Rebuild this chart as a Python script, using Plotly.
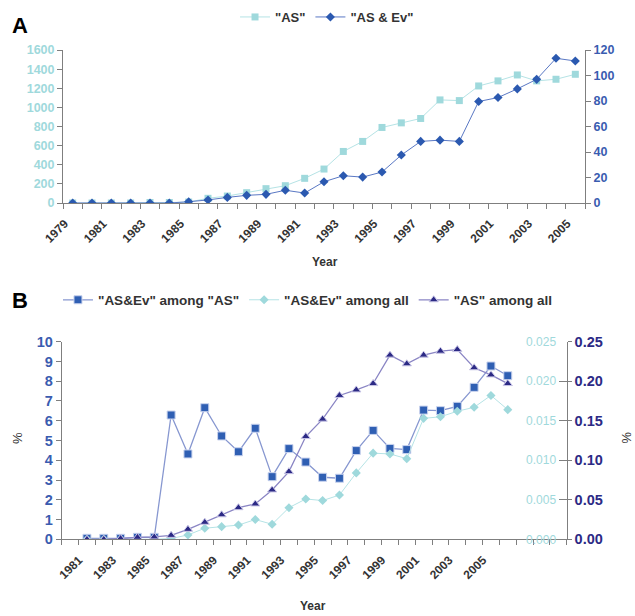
import plotly.graph_objects as go

# ---- Panel A data ----
years_a = list(range(1979, 2006))
as_counts = [0, 0, 0, 0, 5, 5, 10, 49, 73, 108, 150, 181, 258, 355, 539, 644, 790,
             838, 884, 1078, 1071, 1224, 1277, 1339, 1277, 1294, 1346]
as_ev_counts = [0, 0, 0, 0, 0, 0, 1, 2.4, 4.4, 6, 6.8, 10, 7.8, 16.7, 21.4, 20.3, 24.3,
                37.6, 48.3, 49.3, 48.3, 79.6, 82.7, 89.5, 97, 113.5, 111.4]
ticks_a = list(range(1979, 2006, 2))

# ---- Panel B data ----
years_b = list(range(1981, 2007))
asev_among_as = [0.05, 0.05, 0.05, 0.1, 0.1, 6.29, 4.32, 6.66, 5.23, 4.43, 5.62, 3.17, 4.59,
                 3.91, 3.14, 3.09, 4.49, 5.51, 4.60, 4.54, 6.54, 6.51, 6.73, 7.69, 8.77, 8.28]
asev_among_all = [0, 0, 0, 0, 0, 0.0001, 0.00055, 0.0014, 0.0016, 0.0018, 0.0025, 0.0019,
                  0.0040, 0.0051, 0.0049, 0.0056, 0.0084, 0.0109, 0.0108, 0.0102, 0.0153,
                  0.0155, 0.0162, 0.0167, 0.0182, 0.0164]
as_among_all = [0, 0, 0.001, 0.0025, 0.003, 0.005, 0.0126, 0.0215, 0.031, 0.040, 0.0447,
                0.0624, 0.0856, 0.130, 0.152, 0.182, 0.189, 0.197, 0.233, 0.222, 0.233,
                0.238, 0.240, 0.217, 0.208, 0.197]
ticks_b = list(range(1981, 2006, 2))

W, H = 635, 616
FONT = "Liberation Sans, Arial, sans-serif"
CYAN = "#9fd9dc"
CYAN_LINE = "#b5e3e5"
BLUE = "#2b59b0"
BLUE_LINE = "#5a78c4"
SQ_BLUE = "#2f5fb3"
SQ_LINE = "#8797d0"
NAVY = "#2c2a85"
NAVY_LINE = "#8a85c4"
AXC = "#7f7f7f"
TXT = "#333333"

fig = go.Figure()

fig.add_trace(go.Scatter(x=years_a, y=as_counts, name='"AS"', mode="lines+markers",
                         line=dict(color=CYAN_LINE, width=1),
                         marker=dict(symbol="square", size=7, color=CYAN),
                         xaxis="x", yaxis="y", legend="legend"))
fig.add_trace(go.Scatter(x=years_a, y=as_ev_counts, name='"AS & Ev"', mode="lines+markers",
                         line=dict(color=BLUE_LINE, width=1),
                         marker=dict(symbol="diamond", size=7, color=BLUE),
                         xaxis="x", yaxis="y2", legend="legend"))

fig.add_trace(go.Scatter(x=years_b, y=asev_among_as, name='"AS&Ev" among "AS"', mode="lines+markers",
                         line=dict(color=SQ_LINE, width=1.3),
                         marker=dict(symbol="square", size=8, color=SQ_BLUE,
                                     line=dict(color="#c9d3ee", width=1)),
                         xaxis="x2", yaxis="y3", legend="legend2"))
fig.add_trace(go.Scatter(x=years_b, y=asev_among_all, name='"AS&Ev" among all', mode="lines+markers",
                         line=dict(color=CYAN_LINE, width=1),
                         marker=dict(symbol="diamond", size=7, color=CYAN),
                         xaxis="x2", yaxis="y4", legend="legend2"))
fig.add_trace(go.Scatter(x=years_b, y=as_among_all, name='"AS" among all', mode="lines+markers",
                         line=dict(color=NAVY_LINE, width=1.3),
                         marker=dict(symbol="triangle-up", size=8, color=NAVY,
                                     line=dict(color="#c8c5e6", width=1)),
                         xaxis="x2", yaxis="y5", legend="legend2"))

xa0, xa1 = 63 / W, 585 / W
ya0, ya1 = 1 - 203 / H, 1 - 50 / H
xb0, xb1 = 61.7 / W, 566.7 / W
yb0, yb1 = 1 - 539.3 / H, 1 - 341.7 / H

def xaxis_common(rng, tickvals, minor_vals, domain, anchor):
    return dict(domain=domain, anchor=anchor, range=rng, tickmode="array",
                tickvals=tickvals, ticktext=[str(t) for t in tickvals], tickangle=-45,
                ticks="", showgrid=False, zeroline=False, showline=True, linecolor=AXC,
                linewidth=1, automargin=False, ticklabelstandoff=8, ticklabelshift=-8,
                tickfont=dict(family=FONT, size=12, weight="bold", color=TXT),
                minor=dict(tickmode="array", tickvals=minor_vals, ticks="outside",
                           ticklen=5, tickcolor=AXC, showgrid=False))

fig.update_layout(
    width=W, height=H, margin=dict(l=0, r=0, t=0, b=0),
    paper_bgcolor="white", plot_bgcolor="white",
    font=dict(family=FONT, color=TXT),
    xaxis=xaxis_common([1978.5, 2005.5], ticks_a, [y + 0.5 for y in range(1978, 2006)],
                       [xa0, xa1], "y"),
    yaxis=dict(domain=[ya0, ya1], anchor="x", range=[0, 1600], dtick=200, ticks="outside",
               ticklen=5, tickcolor=AXC, showline=True, linecolor=AXC, showgrid=False,
               zeroline=False, automargin=False,
               tickfont=dict(family=FONT, size=12.5, weight="bold", color=CYAN)),
    yaxis2=dict(anchor="x", overlaying="y", side="right", range=[0, 120], dtick=20,
                ticks="outside", ticklen=5, tickcolor=AXC, showline=True, linecolor=AXC,
                showgrid=False, zeroline=False, automargin=False,
                tickfont=dict(family=FONT, size=12.5, weight="bold", color="#3a5cb0")),
    xaxis2=xaxis_common([1979.5, 2009.5], ticks_b, [y + 0.5 for y in range(1979, 2010)],
                        [xb0, xb1], "y3"),
    yaxis3=dict(domain=[yb0, yb1], anchor="x2", range=[0, 10], dtick=1, ticks="outside",
                ticklen=5, tickcolor=AXC, showline=True, linecolor=AXC, showgrid=False,
                zeroline=False, automargin=False,
                tickfont=dict(family=FONT, size=14.5, weight="bold", color="#3a5cb0")),
    yaxis4=dict(anchor="x2", overlaying="y3", side="right", range=[0, 0.025], dtick=0.005,
                tickformat=".3f", ticks="inside", ticklen=8, tickcolor=AXC,
                ticklabelposition="inside", ticklabeloverflow="allow", ticklabelstandoff=2,
                showline=True, linecolor=AXC, showgrid=False, zeroline=False,
                automargin=False, tickfont=dict(family=FONT, size=12, color=CYAN)),
    yaxis5=dict(anchor="x2", overlaying="y3", side="right", range=[0, 0.25], dtick=0.05,
                tickformat=".2f", ticks="outside", ticklen=4, tickcolor=AXC,
                showline=False, showgrid=False, zeroline=False, automargin=False,
                tickfont=dict(family=FONT, size=14.5, weight="bold", color=NAVY)),
    legend=dict(orientation="h", x=0.515, y=1 - 17 / H, xanchor="center", yanchor="middle",
                font=dict(family=FONT, size=13, weight="bold", color=TXT),
                bgcolor="rgba(0,0,0,0)", itemwidth=30),
    legend2=dict(orientation="h", x=0.485, y=1 - 300 / H, xanchor="center", yanchor="middle",
                 font=dict(family=FONT, size=13.5, weight="bold", color=TXT),
                 bgcolor="rgba(0,0,0,0)", itemwidth=30),
    showlegend=True,
)

ann = [
    dict(text="A", x=10 / W, y=1 - 25 / H, xanchor="left", yanchor="middle",
         font=dict(family=FONT, size=22, weight="bold", color="black")),
    dict(text="B", x=10 / W, y=1 - 300 / H, xanchor="left", yanchor="middle",
         font=dict(family=FONT, size=22, weight="bold", color="black")),
    dict(text="Year", x=325 / W, y=1 - 262 / H, xanchor="center", yanchor="middle",
         font=dict(family=FONT, size=12, weight="bold", color=TXT)),
    dict(text="Year", x=313 / W, y=1 - 606 / H, xanchor="center", yanchor="middle",
         font=dict(family=FONT, size=12, weight="bold", color=TXT)),
    dict(text="%", x=17 / W, y=1 - 438 / H, xanchor="center", yanchor="middle",
         textangle=-90, font=dict(family=FONT, size=13, color=TXT)),
    dict(text="%", x=627 / W, y=1 - 438 / H, xanchor="center", yanchor="middle",
         textangle=90, font=dict(family=FONT, size=13, color=TXT)),
]
for a in ann:
    a.update(xref="paper", yref="paper", showarrow=False)
fig.update_layout(annotations=ann)

fig.write_html("out.html", config={"displayModeBar": False},
               post_script="document.body.style.margin='0';")
